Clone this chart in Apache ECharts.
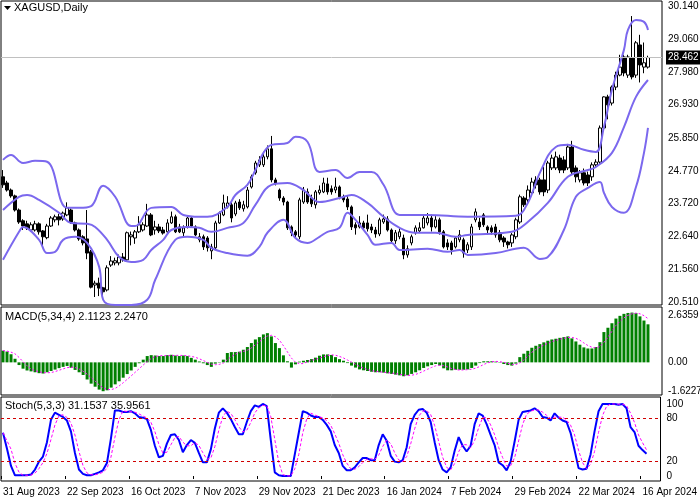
<!DOCTYPE html>
<html lang="en">
<head>
<meta charset="UTF-8">
<title>XAGUSD Daily</title>
<script src="https://cdn.jsdelivr.net/npm/echarts@6/dist/echarts.min.js"></script>
<style>
  html, body { margin: 0; padding: 0; background: #fff; }
  #main { width: 700px; height: 500px; }
</style>
</head>
<body>
<div id="main"></div>
<script>
// trading days: weekdays from this date, minus these holidays
var startDate = '2023-08-31';
var holidays = ['2023-12-25', '2024-01-01', '2024-03-29'];
var barCount = 162;
var tickLabels = ['31 Aug 2023', '22 Sep 2023', '16 Oct 2023', '7 Nov 2023', '29 Nov 2023', '21 Dec 2023',
    '16 Jan 2024', '7 Feb 2024', '29 Feb 2024', '22 Mar 2024', '16 Apr 2024'];

var opens = [24.58,24.38,24.15,23.96,23.50,23.15,23.05,22.85,22.85,23.05,
    22.82,22.60,22.98,23.18,23.28,23.21,23.34,23.50,23.08,22.85,
    22.63,22.56,22.14,21.06,21.12,20.97,20.90,21.71,21.78,21.78,
    21.97,21.88,22.63,22.59,22.79,22.85,22.98,23.34,22.85,22.95,
    22.85,22.79,23.08,23.28,22.95,22.76,22.95,23.24,22.95,22.53,
    22.63,22.59,22.17,22.27,23.08,23.34,23.60,23.67,23.37,23.76,
    23.54,23.60,24.25,24.71,24.97,24.97,25.23,25.49,24.48,24.15,
    23.89,23.76,22.95,22.79,22.63,23.76,24.09,23.89,23.67,24.06,
    24.09,24.35,24.19,24.15,24.25,23.93,23.86,23.60,23.02,22.95,
    23.08,23.08,22.95,22.85,22.72,23.11,23.21,22.85,22.50,22.63,
    22.59,22.04,22.43,22.76,22.82,22.92,23.08,23.24,22.95,23.18,
    22.79,22.43,22.43,22.30,22.53,22.53,22.20,22.30,23.18,23.11,
    23.34,22.95,22.92,22.95,22.76,22.59,22.46,22.43,22.63,23.11,
    23.89,23.83,24.06,24.48,24.48,24.48,24.15,24.87,24.87,25.19,
    25.13,24.87,25.55,24.87,24.48,24.71,24.64,24.58,24.97,25.06,
    26.17,27.18,26.98,27.50,27.89,28.48,27.89,28.45,27.89,28.87,
    28.15,28.15];
var closes = [24.32,24.15,23.96,23.50,23.11,22.98,22.92,23.02,23.05,22.79,
    22.63,22.98,23.24,23.28,23.18,23.40,23.57,23.11,22.85,22.56,
    22.43,22.10,20.99,21.12,20.96,20.84,21.62,21.84,21.85,21.97,
    21.88,22.76,22.69,22.79,23.02,23.02,23.34,22.69,22.95,22.82,
    22.75,23.08,23.28,22.79,22.79,22.92,23.24,22.98,22.69,22.63,
    22.30,22.27,22.30,23.08,23.40,23.73,23.73,23.24,23.73,23.57,
    23.67,24.15,24.58,25.03,25.13,25.23,25.49,24.48,24.38,23.89,
    23.76,22.92,22.76,22.69,23.83,24.15,23.76,23.70,24.09,24.15,
    24.38,24.09,24.09,24.25,23.93,23.83,23.60,22.95,22.92,23.08,
    22.92,22.89,22.85,22.72,23.18,23.21,22.85,22.50,22.76,22.79,
    22.04,22.24,22.63,22.92,22.92,23.24,23.24,22.95,23.18,22.79,
    22.30,22.30,22.20,22.59,22.69,22.10,22.37,22.95,23.44,22.95,
    23.02,22.85,22.79,22.69,22.53,22.46,22.37,22.69,23.18,23.93,
    23.67,24.15,24.41,24.32,24.09,24.09,25.03,25.19,25.23,24.80,
    24.80,25.55,24.74,24.58,24.71,24.38,24.38,24.97,25.06,26.17,
    27.18,26.92,27.50,27.89,28.15,27.96,28.48,27.83,28.94,28.22,
    28.29,28.46];
var highs = [24.80,24.45,24.20,24.00,23.55,23.20,23.15,23.10,23.15,23.10,
    22.85,23.05,23.30,23.35,23.38,23.45,23.75,23.55,23.12,22.90,
    22.68,23.50,22.20,21.20,21.30,21.00,21.70,22.00,21.95,22.05,
    22.10,22.80,22.80,22.85,23.30,23.10,23.70,23.40,23.15,23.05,
    22.95,23.20,23.45,23.35,23.05,23.00,23.30,23.30,23.00,22.75,
    22.70,22.65,22.40,23.15,23.45,24.00,23.95,23.75,23.80,23.85,
    23.80,24.25,24.65,25.10,25.25,25.40,25.60,25.91,24.55,24.20,
    23.95,23.80,23.00,22.85,23.90,24.25,24.20,24.00,24.15,24.30,
    24.55,24.55,24.30,24.55,24.30,24.00,23.95,23.65,23.10,23.30,
    23.15,23.35,23.05,22.95,23.25,23.35,23.30,22.90,22.85,22.90,
    22.70,22.35,22.70,23.00,23.10,23.35,23.40,23.35,23.30,23.25,
    22.85,22.55,22.50,22.65,22.85,22.60,22.45,23.05,23.55,23.25,
    23.40,23.00,23.00,23.05,22.85,22.65,22.50,22.75,23.25,24.00,
    23.95,24.30,24.55,24.60,24.55,24.90,25.10,25.30,25.40,25.30,
    25.25,25.65,25.75,24.95,24.80,24.85,24.75,25.05,25.15,26.25,
    27.20,27.25,27.55,28.00,28.55,28.55,28.55,29.81,29.00,29.20,
    28.95,28.52];
var lows = [24.22,24.10,23.90,23.45,23.05,22.85,22.85,22.80,22.80,22.70,
    22.36,22.55,22.95,23.10,23.00,23.15,23.30,23.05,22.80,22.50,
    22.35,21.90,20.95,20.67,20.70,20.62,20.85,21.65,21.70,21.70,
    21.82,21.82,22.35,22.40,22.75,22.80,22.95,22.65,22.70,22.75,
    22.70,22.75,23.05,22.75,22.75,22.65,22.90,22.95,22.65,22.45,
    22.20,22.15,21.90,22.20,23.05,23.30,23.55,23.10,23.30,23.50,
    23.45,23.55,24.20,24.65,24.90,24.90,25.15,24.40,24.30,23.80,
    23.65,22.85,22.65,22.60,22.55,23.70,23.70,23.60,23.55,24.00,
    24.05,24.00,24.00,24.05,23.85,23.75,23.50,22.85,22.70,22.90,
    22.85,22.80,22.75,22.60,22.65,23.05,22.80,22.45,22.40,22.55,
    21.90,21.95,22.35,22.70,22.75,22.90,23.00,22.80,22.90,22.70,
    22.25,22.20,22.05,22.25,22.45,21.95,22.10,22.20,23.10,22.85,
    22.95,22.70,22.70,22.60,22.45,22.30,22.25,22.30,22.55,23.05,
    23.60,23.75,24.00,24.20,24.00,23.95,24.05,24.80,24.80,24.70,
    24.70,24.80,24.65,24.40,24.40,24.30,24.28,24.45,24.90,25.00,
    26.10,26.45,26.90,27.40,27.85,27.85,27.80,27.75,27.80,27.65,
    27.95,28.10];

// Bollinger bands: [bar index, price]
var bandUpper = [[0,25.13],[2,25.29],[5,25.03],[8,25.10],[11,25.07],[16,23.57],[19,23.57],[22,23.63],
    [25,24.29],[28,23.93],[32,22.98],[33,22.98],[37,23.57],[42,23.60],[45,23.34],[49,23.28],[51,23.28],
    [56,23.60],[58,23.99],[61,24.32],[63,24.80],[65,25.36],[67,25.62],[71,25.68],[73,25.88],[76,25.72],
    [79,24.74],[83,24.80],[86,24.54],[89,24.74],[92,24.74],[95,24.32],[99,23.34],[103,23.34],[106,23.34],
    [116,23.28],[128,23.31],[131,23.73],[134,24.71],[138,25.55],[141,25.62],[145,25.46],[148,25.39],
    [150,26.20],[152,27.41],[155,28.71],[156,29.36],[158,29.68],[160,29.62],[161,29.36]];
var bandMiddle = [[0,23.50],[4,23.93],[6,23.99],[9,23.83],[14,23.41],[17,23.08],[21,23.05],[23,22.95],
    [26,22.53],[29,21.97],[32,21.81],[35,21.88],[37,22.20],[40,22.53],[42,22.85],[46,22.95],[49,22.92],
    [52,22.79],[56,22.92],[60,23.08],[63,23.67],[67,24.32],[71,24.38],[75,24.15],[79,23.76],[84,23.89],
    [87,23.99],[91,23.73],[95,23.28],[99,22.92],[103,22.76],[108,22.76],[113,22.63],[116,22.69],
    [127,22.79],[131,23.11],[136,23.73],[141,24.58],[146,24.80],[148,24.90],[152,25.36],[155,26.20],
    [158,27.18],[161,27.73]];
var bandLower = [[0,21.88],[4,22.79],[5,22.95],[9,22.53],[11,22.10],[13,22.14],[15,22.53],[18,22.63],
    [21,22.43],[24,21.65],[25,20.58],[28,20.41],[32,20.41],[36,20.58],[38,21.23],[43,22.53],[46,22.63],
    [50,22.53],[52,22.27],[56,22.10],[61,22.01],[64,22.30],[66,22.76],[70,23.18],[73,22.59],[76,22.43],
    [79,22.63],[81,22.79],[84,22.92],[86,23.41],[88,23.18],[91,22.69],[93,22.37],[97,22.43],[99,22.20],
    [106,22.24],[111,22.14],[114,22.20],[116,22.04],[123,22.10],[130,22.27],[134,21.91],[136,21.97],
    [140,22.85],[143,23.93],[146,24.22],[149,24.41],[150,24.06],[152,23.60],[155,23.41],[158,24.25],
    [160,25.36],[161,26.17]];

var macd = [0.65,0.60,0.45,0.20,-0.15,-0.35,-0.45,-0.50,-0.55,-0.60,
    -0.62,-0.55,-0.48,-0.40,-0.32,-0.25,-0.20,-0.30,-0.42,-0.55,
    -0.70,-0.95,-1.18,-1.35,-1.51,-1.60,-1.55,-1.40,-1.22,-1.05,
    -0.85,-0.65,-0.45,-0.25,-0.05,0.15,0.35,0.40,0.38,0.35,
    0.35,0.40,0.42,0.38,0.35,0.38,0.35,0.25,0.15,0.05,
    -0.05,-0.15,-0.25,-0.07,0.02,0.15,0.52,0.57,0.57,0.59,
    0.70,0.85,1.07,1.27,1.40,1.55,1.62,1.44,1.07,0.79,
    0.39,0.06,-0.29,-0.11,0.04,0.09,0.13,0.18,0.26,0.37,
    0.44,0.44,0.41,0.29,0.18,0.09,-0.04,-0.18,-0.29,-0.39,
    -0.44,-0.48,-0.52,-0.55,-0.55,-0.57,-0.61,-0.64,-0.68,-0.72,
    -0.77,-0.72,-0.64,-0.55,-0.44,-0.31,-0.22,-0.15,-0.09,-0.17,
    -0.33,-0.44,-0.44,-0.41,-0.41,-0.41,-0.39,-0.31,-0.18,-0.04,
    0.06,0.06,0.06,0.04,-0.02,-0.09,-0.15,-0.18,-0.07,0.29,
    0.48,0.64,0.81,0.92,1.01,1.11,1.20,1.27,1.31,1.36,
    1.40,1.44,1.33,1.16,0.98,0.83,0.77,0.77,0.85,1.12,
    1.68,1.92,2.17,2.43,2.58,2.69,2.74,2.76,2.73,2.55,
    2.32,2.11];

var stochK = [60,38,14,1,1,1,1,2,9,20,
    27,47,78,88,85,82,77,62,32,9,
    3,1,1,3,5,8,18,52,91,91,
    89,89,90,87,82,81,79,64,42,26,
    28,45,57,58,50,33,43,50,46,32,
    19,19,37,66,88,94,88,79,68,58,
    58,75,90,98,96,100,97,50,5,1,
    0,0,0,30,60,90,88,84,82,82,
    78,71,62,43,32,14,8,8,12,19,
    25,25,22,22,43,58,49,28,20,19,
    22,40,72,85,92,93,88,75,47,22,
    9,5,12,35,54,42,34,42,72,87,
    84,72,57,43,19,15,8,20,48,78,
    89,90,91,94,90,82,81,77,87,81,
    77,75,60,36,11,9,10,30,62,90,
    100,100,100,100,99,100,94,68,61,42,
    36,31];

var priceTicks = [30.140, 29.060, 27.980, 26.930, 25.850, 24.770, 23.720, 22.640, 21.560, 20.510];
var macdTicks = [2.6359, 0, -1.6227];
var stochTicks = [100, 80, 20, 0];
var lastPrice = 28.462;

// build categories
var holidaySet = {};
holidays.forEach(function (h) { holidaySet[h] = true; });
var months = ['Jan','Feb','Mar','Apr','May','Jun','Jul','Aug','Sep','Oct','Nov','Dec'];
var dates = [];
var d = new Date(startDate + 'T12:00:00Z');
while (dates.length < barCount + 3) {
    var wd = d.getUTCDay();
    var iso = d.toISOString().slice(0, 10);
    if (wd !== 0 && wd !== 6 && !holidaySet[iso]) {
        dates.push(d.getUTCDate() + ' ' + months[d.getUTCMonth()] + ' ' + d.getUTCFullYear());
    }
    d.setUTCDate(d.getUTCDate() + 1);
}

var candles = [];
for (var i = 0; i < barCount; i++) {
    candles.push([opens[i], closes[i], lows[i], highs[i]]);
}

// signal = SMA(4) of macd, %D = SMA(3) of %K
function sma(arr, n) {
    return arr.map(function (v, i) {
        var s = 0, c = 0;
        for (var j = Math.max(0, i - n + 1); j <= i; j++) { s += arr[j]; c++; }
        return +(s / c).toFixed(4);
    });
}
var signal = sma(macd, 4);
var stochD = sma(stochK, 3);

var tickSet = {};
tickLabels.forEach(function (t) { tickSet[t] = true; });

var bandColor = '#7b68ee';
var font = 'Liberation Sans';
var clear = 'rgba(0,0,0,0)';

// axis labels as invisible level lines so they sit on the scale
function levelLabels(values, fmt) {
    return values.map(function (v) {
        return {
            yAxis: v,
            lineStyle: { color: clear, width: 1 },
            label: { formatter: fmt(v), color: '#000', fontSize: 10, fontFamily: font, distance: 6 }
        };
    });
}

var myChart = echarts.init(document.getElementById('main'));
var option = {
    animation: false,
    textStyle: { fontFamily: font },
    grid: [
        { left: 1, right: 38, top: 1, height: 304, show: true, borderColor: '#000', borderWidth: 1 },
        { left: 1, right: 38, top: 307, height: 88, show: true, borderColor: '#000', borderWidth: 1 },
        { left: 1, right: 38, top: 397, height: 84, show: true, borderColor: '#000', borderWidth: 1 }
    ],
    xAxis: [
        { type: 'category', gridIndex: 0, data: dates, show: false },
        { type: 'category', gridIndex: 1, data: dates, show: false },
        {
            type: 'category', gridIndex: 2, data: dates,
            axisLine: { show: false },
            axisTick: { show: true, length: 3, lineStyle: { color: '#000' },
                interval: function (idx, val) { return !!tickSet[val]; } },
            axisLabel: {
                color: '#000', fontSize: 10, fontFamily: font, align: 'left', margin: 6,
                showMinLabel: true, hideOverlap: false,
                interval: function (idx, val) { return !!tickSet[val]; }
            }
        }
    ],
    yAxis: [
        { type: 'value', gridIndex: 0, position: 'right', min: 20.41, max: 30.30, scale: true,
            axisLine: { show: false }, axisTick: { show: false }, axisLabel: { show: false }, splitLine: { show: false } },
        { type: 'value', gridIndex: 1, position: 'right', min: -1.81, max: 3.07,
            axisLine: { show: false }, axisTick: { show: false }, axisLabel: { show: false }, splitLine: { show: false } },
        { type: 'value', gridIndex: 2, position: 'right', min: -6.9, max: 109.7,
            axisLine: { show: false }, axisTick: { show: false }, axisLabel: { show: false }, splitLine: { show: false } }
    ],
    graphic: [
        { type: 'polygon', shape: { points: [[4, 6], [11, 6], [7.5, 10]] }, style: { fill: '#000' } },
        { type: 'text', left: 14, top: 2, style: { text: 'XAGUSD,Daily', font: '11px Liberation Sans', fill: '#000' } },
        { type: 'text', left: 5, top: 311, style: { text: 'MACD(5,34,4) 2.1123 2.2470', font: '11px Liberation Sans', fill: '#000' } },
        { type: 'text', left: 5, top: 400, style: { text: 'Stoch(5,3,3) 31.1537 35.9561', font: '11px Liberation Sans', fill: '#000' } }
    ],
    series: [
        {
            name: 'XAGUSD', type: 'candlestick', xAxisIndex: 0, yAxisIndex: 0,
            data: candles, barWidth: 3,
            itemStyle: { color: '#fff', color0: '#000', borderColor: '#000', borderColor0: '#000', borderWidth: 1 },
            markLine: {
                silent: true, symbol: 'none',
                label: { position: 'end' },
                data: levelLabels(priceTicks, function (v) { return v.toFixed(3); }).concat([{
                    yAxis: lastPrice,
                    lineStyle: { color: '#c0c0c0', type: 'solid', width: 1 },
                    label: { formatter: lastPrice.toFixed(3), color: '#fff', backgroundColor: '#000',
                        padding: [2, 2], fontSize: 10, fontFamily: font, distance: 4 }
                }])
            }
        },
        { name: 'Upper', type: 'line', xAxisIndex: 0, yAxisIndex: 0, data: bandUpper, smooth: 0.4,
            showSymbol: false, lineStyle: { color: bandColor, width: 2 } },
        { name: 'Middle', type: 'line', xAxisIndex: 0, yAxisIndex: 0, data: bandMiddle, smooth: 0.4,
            showSymbol: false, lineStyle: { color: bandColor, width: 2 } },
        { name: 'Lower', type: 'line', xAxisIndex: 0, yAxisIndex: 0, data: bandLower, smooth: 0.4,
            showSymbol: false, lineStyle: { color: bandColor, width: 2 } },
        {
            name: 'MACD', type: 'bar', xAxisIndex: 1, yAxisIndex: 1, data: macd, barWidth: 3,
            itemStyle: { color: '#008000' },
            markLine: {
                silent: true, symbol: 'none', label: { position: 'end' },
                data: levelLabels(macdTicks, function (v) { return v === 0 ? '0.00' : v.toFixed(4); })
            }
        },
        { name: 'Signal', type: 'line', xAxisIndex: 1, yAxisIndex: 1, data: signal, showSymbol: false,
            lineStyle: { color: '#ff00ff', width: 1, type: [2, 2] } },
        {
            name: '%K', type: 'line', xAxisIndex: 2, yAxisIndex: 2, data: stochK, showSymbol: false,
            lineStyle: { color: '#0000ff', width: 2 },
            markLine: {
                silent: true, symbol: 'none', label: { position: 'end' },
                data: levelLabels(stochTicks, function (v) { return String(v); }).concat(
                    [80, 20].map(function (v) {
                        return { yAxis: v, lineStyle: { color: '#d00000', type: [3, 3], width: 1 },
                            label: { show: false } };
                    }))
            }
        },
        { name: '%D', type: 'line', xAxisIndex: 2, yAxisIndex: 2, data: stochD, showSymbol: false,
            lineStyle: { color: '#ff00ff', width: 1, type: [3, 2] } }
    ]
};
myChart.setOption(option);
</script>
</body>
</html>
